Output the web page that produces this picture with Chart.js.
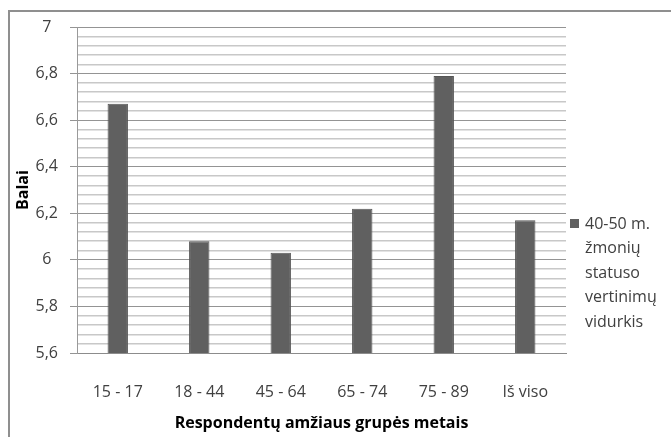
<!DOCTYPE html>
<html>
<head>
<meta charset="utf-8">
<script src="https://cdn.jsdelivr.net/npm/chart.js@4.4.1/dist/chart.umd.min.js"></script>
<style>
    body { margin: 0; background: #fff; }
    #wrap { position: relative; width: 671px; height: 437px; }
    #frame { position: absolute; left: 8px; top: 10px; right: 0; bottom: 0; border-left: 2px solid #8f8f8f; border-top: 2px solid #8f8f8f; }
    canvas { position: absolute; left: 0; top: 0; }
</style>
</head>
<body>
<div id="wrap">
    <div id="frame"></div>
    <canvas id="chart" width="671" height="437"></canvas>
</div>
<script>
// chart data
const ageGroups = ['15 - 17', '18 - 44', '45 - 64', '65 - 74', '75 - 89', 'Iš viso'];
const avgScores = [6.67, 6.08, 6.03, 6.22, 6.79, 6.17];
const legendLines = ['40-50 m.', 'žmonių', 'statuso', 'vertinimų', 'vidurkis'];
const yTitle = 'Balai';
const xTitle = 'Respondentų amžiaus grupės metais';
const yMin = 5.6, yMax = 7, majorStep = 0.2, minorStep = 0.04;

const FONT = "'Open Sans', sans-serif";
const BAR_COLOR = '#606060';

function isMajor(v) {
    const r = v / majorStep;
    return Math.abs(r - Math.round(r)) < 1e-6;
}

// legend on the right, text split into lines like in excel
const sideLegend = {
    id: 'sideLegend',
    afterDraw(chart) {
        const ctx = chart.ctx;
        const x = chart.chartArea.right + 4;
        const y = 224;
        ctx.save();
        ctx.fillStyle = BAR_COLOR;
        ctx.fillRect(x, y - 5, 9, 9);
        ctx.fillStyle = '#404040';
        ctx.font = '16px ' + FONT;
        ctx.textBaseline = 'middle';
        legendLines.forEach((line, i) => {
            ctx.fillText(line, x + 15, y + i * 24.5);
        });
        ctx.restore();
    }
};

new Chart(document.getElementById('chart'), {
    type: 'bar',
    data: {
        labels: ageGroups,
        datasets: [{
            label: legendLines.join(' '),
            data: avgScores,
            backgroundColor: BAR_COLOR,
            borderColor: '#555555',
            borderWidth: 1,
            categoryPercentage: 1,
            barPercentage: 0.25
        }]
    },
    options: {
        responsive: false,
        animation: false,
        devicePixelRatio: 1,
        layout: { padding: { left: 9, top: 27, right: 105, bottom: 0 } },
        plugins: {
            legend: { display: false },
            tooltip: { enabled: false }
        },
        scales: {
            x: {
                grid: { display: false },
                border: { display: true, color: '#8c8c8c', width: 1 },
                ticks: { color: '#404040', font: { family: FONT, size: 16 }, padding: 22, maxRotation: 0 },
                title: { display: true, text: xTitle, color: '#000', font: { family: FONT, size: 16, weight: 'bold' }, padding: { top: 0, bottom: 4 } },
                afterFit: scale => { scale.height = 84; }
            },
            y: {
                min: yMin,
                max: yMax,
                ticks: {
                    stepSize: minorStep,
                    autoSkip: false,
                    crossAlign: 'center',
                    padding: 12,
                    color: '#404040',
                    font: { family: FONT, size: 16 },
                    callback: v => isMajor(v) ? String(Number(v.toFixed(1))).replace('.', ',') : ''
                },
                grid: {
                    color: c => isMajor(c.tick.value) ? '#949494' : '#c8c8c8',
                    tickColor: c => isMajor(c.tick.value) ? '#949494' : 'rgba(0,0,0,0)',
                    tickLength: 7,
                    lineWidth: c => isMajor(c.tick.value) ? 1 : 1.5
                },
                border: { display: true, color: '#9a9a9a', width: 1 },
                title: { display: true, text: yTitle, color: '#000', font: { family: FONT, size: 16, weight: 'bold' }, padding: { top: 5, bottom: 0 } },
                afterFit: scale => { scale.width = 68; }
            }
        }
    },
    plugins: [sideLegend]
});
</script>
</body>
</html>
